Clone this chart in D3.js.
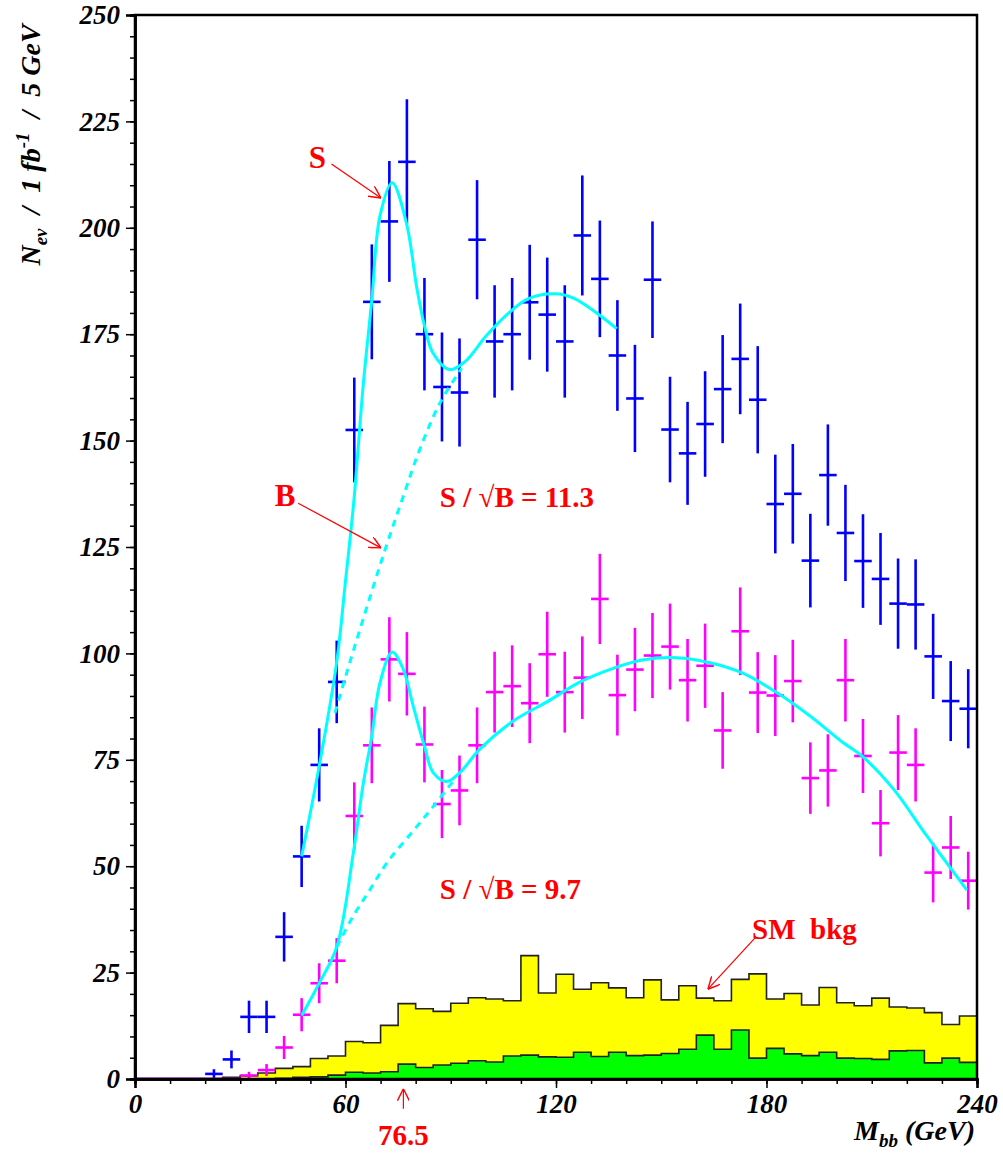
<!DOCTYPE html>
<html>
<head>
<meta charset="utf-8">
<script src="https://cdn.jsdelivr.net/npm/d3@7"></script>
<style>
    body { margin: 0; background: #fff; }
    text { font-family: "Liberation Serif", "Times New Roman", serif; white-space: pre; }
</style>
</head>
<body>
<div id="wrapper"></div>
<script>
// bin centres (GeV), 5 GeV bins from 0 to 240
const binCenters = d3.range(48).map(i => 2.5 + 5 * i);
const binEdges = d3.range(49).map(i => 5 * i);

// blue points: higher statistics sample
const blueValues = [0, 0, 0, 0, 1.2, 4.6, 14.6, 14.6, 33.4, 52.3, 73.8, 93.3,
    152.5, 182.6, 201.5, 215.5, 175, 162.6, 161.3, 197.2, 173.3, 175, 182.5, 179.6,
    173.3, 198.2, 188, 170, 159.9, 187.8, 152.6, 147, 153.9, 162.1, 169.2, 159.6,
    135.1, 137.5, 121.8, 141.9, 128.3, 121.7, 117.5, 111.7, 111.5, 99.3, 88.8, 87];
const blueErrors = [0, 0, 0, 0, 1.1, 2.1, 3.8, 3.8, 5.8, 7.2, 8.6, 9.7,
    12.3, 13.5, 14.2, 14.7, 13.2, 12.8, 12.7, 14.0, 13.2, 13.2, 13.5, 13.4,
    13.2, 14.1, 13.7, 13.0, 12.6, 13.7, 12.4, 12.1, 12.4, 12.7, 13.0, 12.6,
    11.6, 11.7, 11.0, 11.9, 11.3, 11.0, 10.8, 10.6, 10.6, 10.0, 9.4, 9.3];

// magenta points
const magentaValues = [0, 0, 0, 0, 0, 0, 0.8, 2.1, 7.4, 15.1, 22.5, 27.8,
    61.8, 78.4, 98.6, 95.2, 78.6, 64.6, 67.8, 78.4, 90.9, 92.3, 88.3, 99.8,
    90.9, 94.3, 112.8, 90.2, 96.2, 99.5, 101.6, 93.7, 97.1, 81.9, 105.2, 90.8,
    90.1, 93.5, 70.7, 72.5, 93.7, 75.9, 60.1, 76.7, 73.8, 48.5, 54.4, 46.6];
const magentaErrors = [0, 0, 0, 0, 0, 0, 0.9, 1.4, 2.7, 3.9, 4.7, 5.3,
    7.9, 8.9, 9.9, 9.8, 8.9, 8.0, 8.2, 8.9, 9.5, 9.6, 9.4, 10.0,
    9.5, 9.7, 10.6, 9.5, 9.8, 10.0, 10.1, 9.7, 9.9, 9.0, 10.3, 9.5,
    9.5, 9.7, 8.4, 8.5, 9.7, 8.7, 7.8, 8.8, 8.6, 7.0, 7.4, 6.8];

// SM background histograms (per bin)
const smTotal = [0, 0, 0, 0, 0.1, 0.4, 0.8, 1.4, 2.5, 2.9, 4.8, 5.4,
    8.8, 8.5, 12.6, 17.7, 16.5, 15.9, 17.8, 19.1, 18.8, 18.4, 29, 20.2,
    24.6, 21.1, 22.6, 21.4, 19.1, 23.3, 18.6, 21.9, 19.0, 18.4, 23.4, 24.7,
    18.8, 20.1, 17.4, 21.5, 17.9, 17.2, 19.0, 16.9, 16.7, 15.6, 12.8, 14.8];
const smPart = [0, 0, 0, 0, 0, 0, 0, 0, 0.15, 0.4, 0.5, 0.9,
    1.6, 1.4, 1.7, 3.5, 2.7, 3.3, 3.7, 4.3, 4.0, 5.4, 5.6, 5.2,
    5.1, 6.3, 5.3, 6.3, 5.5, 5.6, 6.0, 7.0, 10.3, 7.0, 11.5, 4.9,
    7.2, 5.9, 5.5, 6.3, 4.9, 4.8, 4.6, 6.6, 6.7, 3.8, 4.9, 3.9];

// fitted curves: [GeV, events]
const blueFit = [[47.5, 52.3], [52.5, 73.5], [57.5, 98], [60, 117], [62.4, 136], [65.1, 163.5],
    [67.5, 183], [69.8, 202.7], [73.3, 210.6], [77.4, 201], [80.3, 186], [82.5, 177],
    [85, 170.5], [89.6, 166.7], [94, 168.5], [100, 174.5], [106, 179.6], [112, 183.3],
    [119.7, 184.5], [125, 183.5], [129.7, 181.1], [133.5, 178.8], [137.3, 176.3]];
const blueBkg = [[57, 86], [60, 94.5], [65, 108], [71.3, 124.4], [76.5, 137], [81.2, 148],
    [86.9, 158.8], [93.1, 167]];
const magentaFit = [[47.5, 14.9], [52.5, 22.5], [57.5, 31], [62.3, 53.5], [65.1, 69.6],
    [67.5, 80.6], [69.8, 93], [73.3, 100.3], [76.5, 96.2], [79.3, 87.6], [82.5, 78.2],
    [85, 72], [88.9, 69.9], [92.6, 72], [98.3, 77.5], [107.8, 84.1], [117.4, 88.6],
    [126.9, 93.3], [136.3, 96.5], [145, 98.5], [154.4, 99], [163.9, 97.8], [173.4, 95.3],
    [182.9, 90.8], [192.4, 85.3], [201.9, 79], [207.2, 75.9], [216.2, 68.1], [225.7, 57.1],
    [237.1, 44.4]];
const magentaBkg = [[57.5, 31], [62, 38], [67, 44.5], [72, 51], [79, 58], [85, 64], [90.7, 70]];

const xTicks = [0, 60, 120, 180, 240];
const yTicks = [0, 25, 50, 75, 100, 125, 150, 175, 200, 225, 250];

function drawChart() {
    const width = 1003;
    const height = 1154;
    const margin = { top: 15, right: 26, bottom: 75, left: 135 };
    const boundedWidth = width - margin.left - margin.right;
    const boundedHeight = height - margin.top - margin.bottom;

    const svg = d3.select("#wrapper")
        .append("svg")
        .attr("width", width)
        .attr("height", height);

    svg.append("defs").append("marker")
        .attr("id", "arrow")
        .attr("viewBox", "0 0 10 10")
        .attr("refX", 10).attr("refY", 5)
        .attr("markerWidth", 12).attr("markerHeight", 12)
        .attr("markerUnits", "userSpaceOnUse")
        .attr("orient", "auto")
        .append("path")
        .attr("d", "M0,0 L10,5 L0,10")
        .attr("fill", "none")
        .attr("stroke", "red")
        .attr("stroke-width", 1.2);

    const bounds = svg.append("g")
        .attr("transform", `translate(${margin.left},${margin.top})`);

    const xScale = d3.scaleLinear().domain([0, 240]).range([0, boundedWidth]);
    const yScale = d3.scaleLinear().domain([0, 250]).range([boundedHeight, 0]);

    // SM background histograms
    const histPoints = values => binEdges.map((e, i) => [e, values[Math.min(i, values.length - 1)]]);
    const histArea = d3.area()
        .x(d => xScale(d[0]))
        .y0(yScale(0))
        .y1(d => yScale(d[1]))
        .curve(d3.curveStepAfter);
    const histLine = d3.line()
        .x(d => xScale(d[0]))
        .y(d => yScale(d[1]))
        .curve(d3.curveStepAfter);

    [[smTotal, "#ffff00"], [smPart, "#00ff00"]].forEach(([values, color]) => {
        const pts = histPoints(values);
        bounds.append("path")
            .attr("d", histArea(pts))
            .attr("fill", color);
        bounds.append("path")
            .attr("d", histLine(pts))
            .attr("fill", "none")
            .attr("stroke", "#222")
            .attr("stroke-width", 1.6);
    });

    // data points with error bars
    function drawPoints(values, errors, color) {
        const g = bounds.append("g")
            .attr("stroke", color)
            .attr("stroke-width", 2.6);
        binCenters.forEach((c, i) => {
            g.append("line")
                .attr("x1", xScale(c - 2.5)).attr("x2", xScale(c + 2.5))
                .attr("y1", yScale(values[i])).attr("y2", yScale(values[i]));
            if (errors[i] > 0) {
                g.append("line")
                    .attr("x1", xScale(c)).attr("x2", xScale(c))
                    .attr("y1", yScale(values[i] - errors[i]))
                    .attr("y2", yScale(values[i] + errors[i]));
            }
        });
    }
    drawPoints(blueValues, blueErrors, "#0000ff");
    drawPoints(magentaValues, magentaErrors, "#ff00ff");

    // fit curves
    const curve = d3.line()
        .x(d => xScale(d[0]))
        .y(d => yScale(d[1]))
        .curve(d3.curveCatmullRom);
    [blueFit, magentaFit].forEach(pts => {
        bounds.append("path")
            .attr("d", curve(pts))
            .attr("fill", "none")
            .attr("stroke", "#00ffff")
            .attr("stroke-width", 3);
    });
    [blueBkg, magentaBkg].forEach(pts => {
        bounds.append("path")
            .attr("d", curve(pts))
            .attr("fill", "none")
            .attr("stroke", "#00ffff")
            .attr("stroke-width", 3)
            .attr("stroke-dasharray", "7,6");
    });

    // frame
    bounds.append("rect")
        .attr("width", boundedWidth)
        .attr("height", boundedHeight)
        .attr("fill", "none")
        .attr("stroke", "#000")
        .attr("stroke-width", 2.5);

    // axes
    const tickFont = g => g.selectAll("text")
        .attr("font-family", "'Liberation Serif', serif")
        .attr("font-size", 27)
        .attr("font-weight", "bold")
        .attr("font-style", "italic")
        .attr("fill", "#000");

    const yAxis = bounds.append("g")
        .call(d3.axisLeft(yScale).tickValues(yTicks).tickSize(9).tickPadding(6).tickFormat(d3.format("d")))
        .call(tickFont);
    bounds.append("g")
        .call(d3.axisLeft(yScale).tickValues(d3.range(0, 251, 5)).tickSize(5).tickFormat(""));

    const xAxis = bounds.append("g")
        .attr("transform", `translate(0,${boundedHeight})`)
        .call(d3.axisBottom(xScale).tickValues(xTicks).tickSize(9).tickPadding(6).tickFormat(d3.format("d")))
        .call(tickFont);
    bounds.append("g")
        .attr("transform", `translate(0,${boundedHeight})`)
        .call(d3.axisBottom(xScale).tickValues(d3.range(0, 241, 10)).tickSize(5).tickFormat(""));

    bounds.selectAll(".domain").attr("stroke-width", 2.5);
    bounds.selectAll(".tick line").attr("stroke-width", 1.5);

    // axis titles
    const yTitle = svg.append("text")
        .attr("transform", `translate(40,${margin.top + 130}) rotate(-90)`)
        .attr("text-anchor", "middle")
        .attr("font-size", 28)
        .attr("font-weight", "bold")
        .attr("font-style", "italic");
    yTitle.append("tspan").text("N");
    yTitle.append("tspan").attr("font-size", 19).attr("dy", 7).text("ev");
    yTitle.append("tspan").attr("dy", -7).text("  /  1 fb");
    yTitle.append("tspan").attr("font-size", 19).attr("dy", -11).text("-1");
    yTitle.append("tspan").attr("dy", 11).text("  /  5 GeV");

    const xTitle = svg.append("text")
        .attr("x", margin.left + boundedWidth - 2)
        .attr("y", margin.top + boundedHeight + 61)
        .attr("text-anchor", "end")
        .attr("font-size", 28)
        .attr("font-weight", "bold")
        .attr("font-style", "italic");
    xTitle.append("tspan").text("M");
    xTitle.append("tspan").attr("font-size", 19).attr("dy", 7).text("bb");
    xTitle.append("tspan").attr("dy", -7).text(" (GeV)");

    // annotations
    const note = (x, y, label, anchor = "start", size = 29) => bounds.append("text")
        .attr("x", xScale(x)).attr("y", yScale(y))
        .attr("text-anchor", anchor)
        .attr("font-size", size)
        .attr("font-weight", "bold")
        .attr("fill", "#ff0000")
        .text(label);
    const arrow = (x1, y1, x2, y2) => bounds.append("line")
        .attr("x1", xScale(x1)).attr("y1", yScale(y1))
        .attr("x2", xScale(x2)).attr("y2", yScale(y2))
        .attr("stroke", "red")
        .attr("stroke-width", 1.2)
        .attr("marker-end", "url(#arrow)");

    note(52.0, 214.0, "S", "middle", 31);
    arrow(56.0, 215, 70.1, 207);
    note(42.8, 134.7, "B", "middle", 31);
    arrow(46.5, 135.3, 70.1, 124.8);
    note(86.9, 134.5, "S / \u221AB = 11.3");
    note(86.9, 42.2, "S / \u221AB = 9.7");
    note(175.9, 33, "SM  bkg");
    arrow(177, 33.4, 163.3, 21.1);
    note(76.5, -15.5, "76.5", "middle");
    arrow(76.5, -7, 76.5, -2.3);
}

drawChart();
</script>
</body>
</html>
